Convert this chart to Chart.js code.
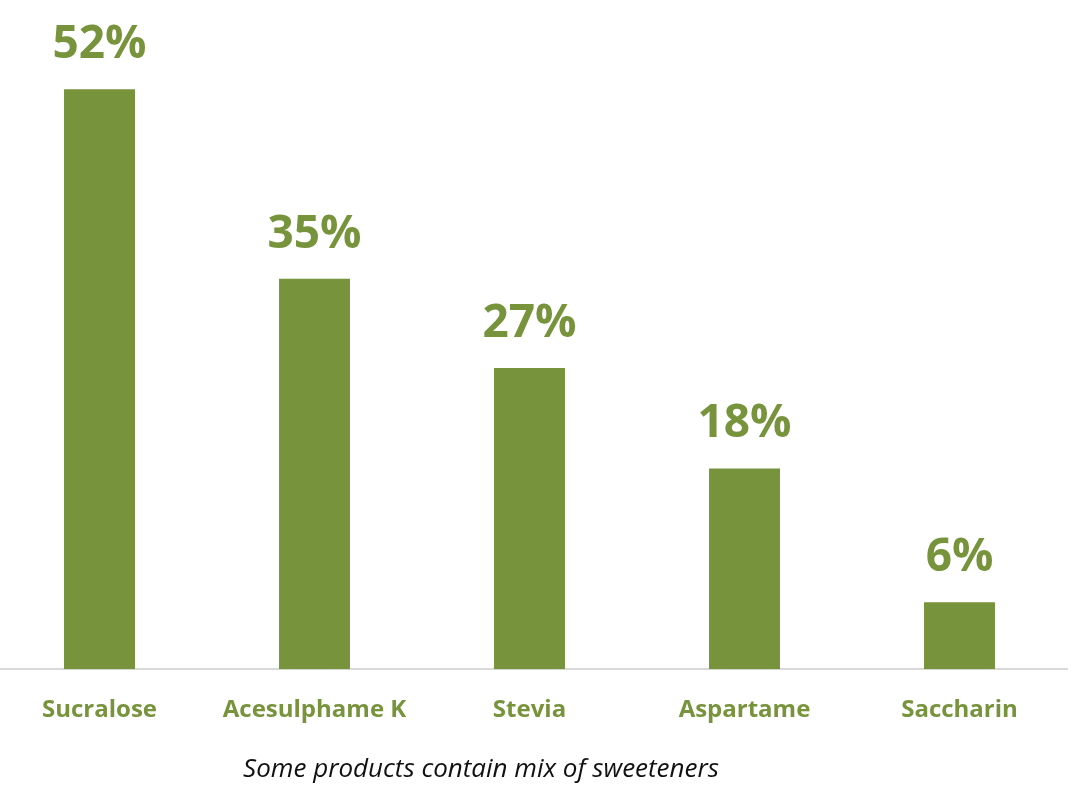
<!DOCTYPE html>
<html>
<head>
<meta charset="utf-8">
<script src="https://cdn.jsdelivr.net/npm/chart.js@4.4.0/dist/chart.umd.min.js"></script>
<style>
  html, body { margin: 0; padding: 0; background: #fff; }
  #wrap { width: 1080px; height: 796px; position: relative; overflow: hidden; }
  #inner { position: absolute; left: -8px; top: 0; width: 1088px; height: 796px; }
</style>
</head>
<body>
<div id="wrap"><div id="inner"><canvas id="myChart"></canvas></div></div>
<script>
const sweeteners = ["Sucralose", "Acesulphame K", "Stevia", "Aspartame", "Saccharin"];
const shares = [52, 35, 27, 18, 6];
const footnote = "Some products contain mix of sweeteners";

const green = "#77933C";

// draws the "52%" style labels over each bar
const valueLabels = {
    id: "valueLabels",
    afterDatasetsDraw(chart) {
        const ctx = chart.ctx;
        const meta = chart.getDatasetMeta(0);
        ctx.save();
        ctx.font = "bold 46px 'Open Sans'";
        ctx.fillStyle = green;
        ctx.textAlign = "center";
        ctx.textBaseline = "alphabetic";
        meta.data.forEach((bar, i) => {
            ctx.fillText(shares[i] + "%", bar.x, bar.y - 31);
        });
        ctx.restore();
    }
};

// italic note under the axis (canvas is shifted 8px left)
const noteText = {
    id: "noteText",
    afterDraw(chart) {
        const ctx = chart.ctx;
        ctx.save();
        ctx.font = "italic 26px 'Open Sans'";
        ctx.fillStyle = "#111";
        ctx.textAlign = "center";
        ctx.textBaseline = "middle";
        ctx.fillText(footnote, 489, 770);
        ctx.restore();
    }
};

var ctx = document.getElementById("myChart").getContext("2d");
var chart = new Chart(ctx, {
    type: "bar",
    data: {
        labels: sweeteners,
        datasets: [{
            data: shares,
            backgroundColor: green,
            borderWidth: 0,
            barPercentage: 1,
            categoryPercentage: 0.33
        }]
    },
    options: {
        responsive: true,
        maintainAspectRatio: false,
        animation: false,
        layout: {
            padding: { left: 0, right: 13, top: 0, bottom: 52 }
        },
        plugins: {
            legend: { display: false },
            tooltip: { enabled: false }
        },
        scales: {
            x: {
                grid: { display: false },
                border: { display: true, color: "#d9d9d9", width: 2 },
                ticks: {
                    color: green,
                    padding: 19,
                    font: { family: "'Open Sans'", size: 24, weight: "bold" }
                }
            },
            y: {
                display: false,
                min: 0,
                max: 60
            }
        }
    },
    plugins: [valueLabels, noteText]
});
</script>
</body>
</html>
